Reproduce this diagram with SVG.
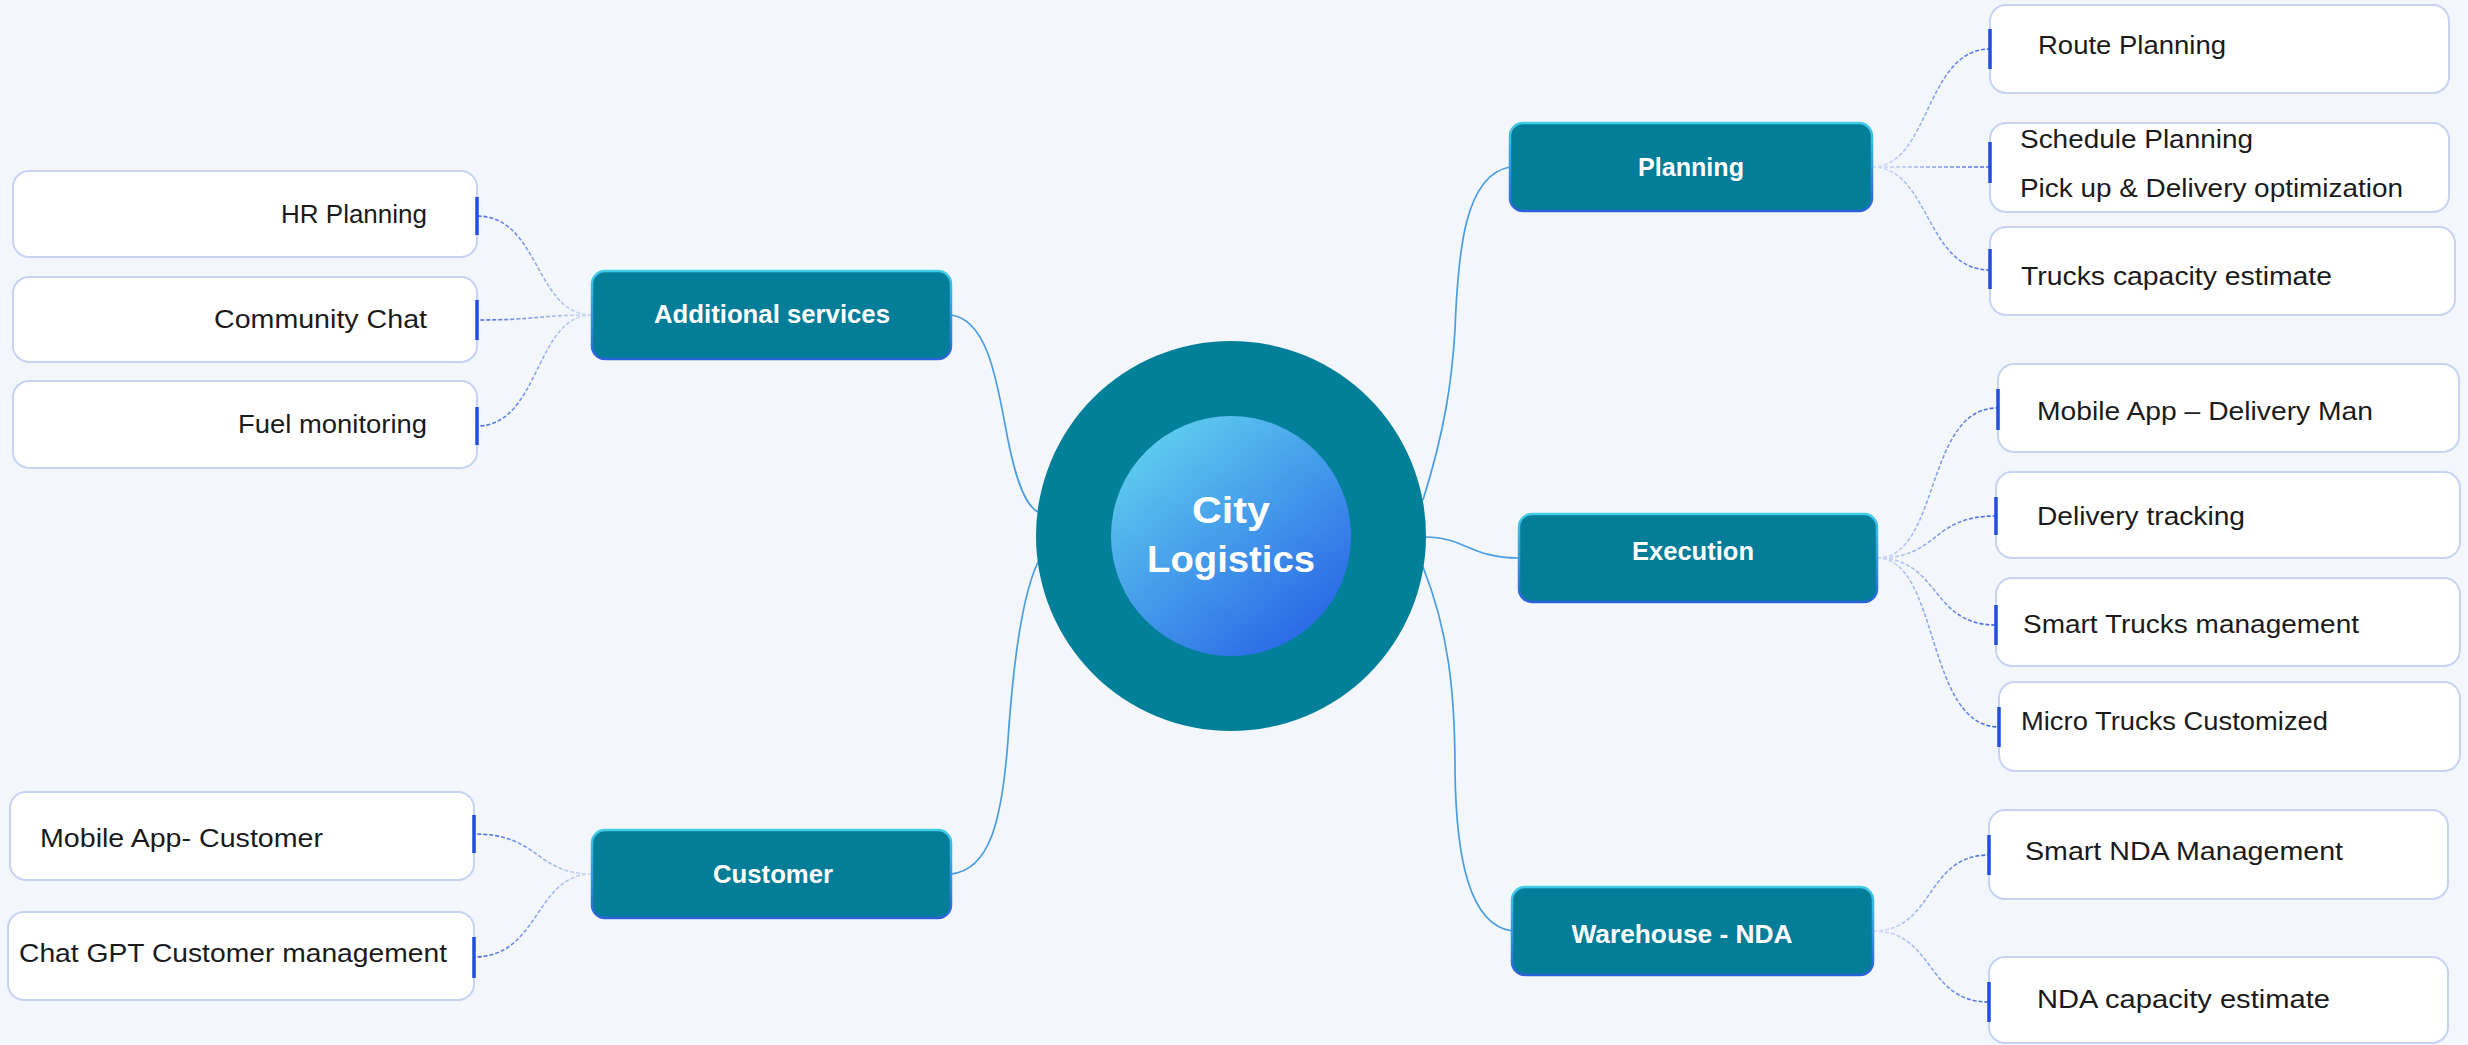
<svg xmlns="http://www.w3.org/2000/svg" width="2468" height="1045" viewBox="0 0 2468 1045">
<defs>
<linearGradient id="core" x1="0.2" y1="0.1" x2="0.85" y2="0.9">
<stop offset="0" stop-color="#5cc9ee"/>
<stop offset="1" stop-color="#2a68e6"/>
</linearGradient>
<linearGradient id="nodeStroke" x1="0" y1="0" x2="0" y2="1">
<stop offset="0" stop-color="#3fcde8"/>
<stop offset="1" stop-color="#2a62d8"/>
</linearGradient>
<linearGradient id="gr" gradientUnits="userSpaceOnUse" x1="1875" y1="0" x2="1995" y2="0">
<stop offset="0" stop-color="#d6e0f7"/>
<stop offset="1" stop-color="#3f64dc"/>
</linearGradient>
<linearGradient id="gl" gradientUnits="userSpaceOnUse" x1="592" y1="0" x2="474" y2="0">
<stop offset="0" stop-color="#d6e0f7"/>
<stop offset="1" stop-color="#3f64dc"/>
</linearGradient>
<style>
.bg{fill:#f3f7fb}
.main rect{fill:#037d98;stroke:url(#nodeStroke);stroke-width:2.5}
.main text{fill:#ffffff;font-family:"Liberation Sans",Arial,sans-serif;font-weight:bold;font-size:25px;text-anchor:middle}
.leaf rect{fill:#ffffff;stroke:#c8d2f2;stroke-width:2}
.leaf text{fill:#1b1b1b;font-family:"Liberation Sans",Arial,sans-serif;font-size:25px}
.leaf line{stroke:#1f4fdc;stroke-width:3.5}
.trunk{fill:none;stroke:#4a9de2;stroke-width:1.7}
.br{fill:none;stroke:url(#gr);stroke-width:1.6;stroke-dasharray:4 2}
.bl{fill:none;stroke:url(#gl);stroke-width:1.6;stroke-dasharray:4 2}
</style>
</defs>
<rect class="bg" x="0" y="0" width="2468" height="1045"/>

<g id="connectors">
<path class="trunk" d="M1423,500 C1445,430 1452,380 1455,330 C1458,250 1465,175 1510,167"/>
<path class="trunk" d="M1425,537 C1465,537 1470,558 1519,558"/>
<path class="trunk" d="M1423,567 C1448,630 1455,690 1455,770 C1456,860 1470,925 1512,931"/>
<path class="trunk" d="M951,315 C990,320 998,390 1008,440 C1016,480 1025,505 1038,512"/>
<path class="trunk" d="M1038,562 C1020,600 1012,680 1008,740 C1002,820 990,870 951,874"/>
<path class="br" d="M1872,167 C1930,167 1925,49 1990,49"/>
<path class="br" d="M1872,167 L1990,167"/>
<path class="br" d="M1872,167 C1930,167 1925,270 1990,270"/>
<path class="br" d="M1877,558 C1940,558 1925,408 1997,408"/>
<path class="br" d="M1877,558 C1940,558 1930,516 1996,516"/>
<path class="br" d="M1877,558 C1940,558 1930,625 1996,625"/>
<path class="br" d="M1877,558 C1940,558 1925,727 1999,727"/>
<path class="br" d="M1873,931 C1935,931 1925,855 1989,855"/>
<path class="br" d="M1873,931 C1935,931 1925,1002 1989,1002"/>
<path class="bl" d="M592,315 C535,315 540,216 477,216"/>
<path class="bl" d="M592,315 C535,315 540,320 477,320"/>
<path class="bl" d="M592,315 C535,315 540,426 477,426"/>
<path class="bl" d="M592,874 C535,874 540,834 474,834"/>
<path class="bl" d="M592,874 C535,874 540,957 474,957"/>
</g>

<g id="center">
<circle cx="1231" cy="536" r="195" fill="#027f99"/>
<circle cx="1231" cy="536" r="120" fill="url(#core)"/>
<text x="1231" y="523" font-family="'Liberation Sans',Arial,sans-serif" font-weight="bold" font-size="36" fill="#ffffff" text-anchor="middle" textLength="78" lengthAdjust="spacingAndGlyphs">City</text>
<text x="1231" y="572" font-family="'Liberation Sans',Arial,sans-serif" font-weight="bold" font-size="36" fill="#ffffff" text-anchor="middle" textLength="168" lengthAdjust="spacingAndGlyphs">Logistics</text>
</g>

<g id="planning" class="main">
<rect x="1510" y="123" width="362" height="88" rx="13"/>
<text x="1691" y="176" textLength="106" lengthAdjust="spacingAndGlyphs">Planning</text>
</g>
<g id="additional-services" class="main">
<rect x="592" y="271" width="359" height="88" rx="13"/>
<text x="772" y="323" textLength="236" lengthAdjust="spacingAndGlyphs">Additional services</text>
</g>
<g id="execution" class="main">
<rect x="1519" y="514" width="358" height="88" rx="13"/>
<text x="1693" y="560" textLength="122" lengthAdjust="spacingAndGlyphs">Execution</text>
</g>
<g id="customer" class="main">
<rect x="592" y="830" width="359" height="88" rx="13"/>
<text x="773" y="883" textLength="120" lengthAdjust="spacingAndGlyphs">Customer</text>
</g>
<g id="warehouse-nda" class="main">
<rect x="1512" y="887" width="361" height="88" rx="13"/>
<text x="1682" y="943" textLength="221" lengthAdjust="spacingAndGlyphs">Warehouse - NDA</text>
</g>

<g id="route-planning" class="leaf">
<rect x="1990" y="5" width="459" height="88" rx="16"/>
<line x1="1990" y1="29" x2="1990" y2="69"/>
<text x="2038" y="54" textLength="188" lengthAdjust="spacingAndGlyphs">Route Planning</text>
</g>
<g id="schedule-planning" class="leaf">
<rect x="1990" y="123" width="459" height="89" rx="16"/>
<line x1="1990" y1="142" x2="1990" y2="183"/>
<text x="2020" y="148" textLength="233" lengthAdjust="spacingAndGlyphs">Schedule Planning</text>
<text x="2020" y="197" textLength="383" lengthAdjust="spacingAndGlyphs">Pick up &amp; Delivery optimization</text>
</g>
<g id="trucks-capacity" class="leaf">
<rect x="1990" y="227" width="465" height="88" rx="16"/>
<line x1="1990" y1="249" x2="1990" y2="289"/>
<text x="2021" y="285" textLength="311" lengthAdjust="spacingAndGlyphs">Trucks capacity estimate</text>
</g>
<g id="mobile-app-delivery" class="leaf">
<rect x="1998" y="364" width="461" height="88" rx="16"/>
<line x1="1998" y1="389" x2="1998" y2="430"/>
<text x="2037" y="420" textLength="336" lengthAdjust="spacingAndGlyphs">Mobile App – Delivery Man</text>
</g>
<g id="delivery-tracking" class="leaf">
<rect x="1996" y="472" width="464" height="86" rx="16"/>
<line x1="1996" y1="497" x2="1996" y2="535"/>
<text x="2037" y="525" textLength="208" lengthAdjust="spacingAndGlyphs">Delivery tracking</text>
</g>
<g id="smart-trucks" class="leaf">
<rect x="1996" y="578" width="464" height="88" rx="16"/>
<line x1="1996" y1="605" x2="1996" y2="645"/>
<text x="2023" y="633" textLength="336" lengthAdjust="spacingAndGlyphs">Smart Trucks management</text>
</g>
<g id="micro-trucks" class="leaf">
<rect x="1999" y="682" width="461" height="89" rx="16"/>
<line x1="1999" y1="707" x2="1999" y2="747"/>
<text x="2021" y="730" textLength="307" lengthAdjust="spacingAndGlyphs">Micro Trucks Customized</text>
</g>
<g id="smart-nda" class="leaf">
<rect x="1989" y="810" width="459" height="89" rx="16"/>
<line x1="1989" y1="835" x2="1989" y2="875"/>
<text x="2025" y="860" textLength="318" lengthAdjust="spacingAndGlyphs">Smart NDA Management</text>
</g>
<g id="nda-capacity" class="leaf">
<rect x="1989" y="957" width="459" height="86" rx="16"/>
<line x1="1989" y1="982" x2="1989" y2="1022"/>
<text x="2037" y="1008" textLength="293" lengthAdjust="spacingAndGlyphs">NDA capacity estimate</text>
</g>

<g id="hr-planning" class="leaf">
<rect x="13" y="171" width="464" height="86" rx="16"/>
<line x1="477" y1="197" x2="477" y2="235"/>
<text x="427" y="223" text-anchor="end" textLength="146" lengthAdjust="spacingAndGlyphs">HR Planning</text>
</g>
<g id="community-chat" class="leaf">
<rect x="13" y="277" width="464" height="85" rx="16"/>
<line x1="477" y1="300" x2="477" y2="340"/>
<text x="427" y="328" text-anchor="end" textLength="213" lengthAdjust="spacingAndGlyphs">Community Chat</text>
</g>
<g id="fuel-monitoring" class="leaf">
<rect x="13" y="381" width="464" height="87" rx="16"/>
<line x1="477" y1="407" x2="477" y2="445"/>
<text x="427" y="433" text-anchor="end" textLength="189" lengthAdjust="spacingAndGlyphs">Fuel monitoring</text>
</g>
<g id="mobile-app-customer" class="leaf">
<rect x="10" y="792" width="464" height="88" rx="16"/>
<line x1="474" y1="815" x2="474" y2="853"/>
<text x="40" y="847" textLength="283" lengthAdjust="spacingAndGlyphs">Mobile App- Customer</text>
</g>
<g id="chatgpt-customer" class="leaf">
<rect x="8" y="912" width="466" height="88" rx="16"/>
<line x1="474" y1="937" x2="474" y2="978"/>
<text x="19" y="962" textLength="428" lengthAdjust="spacingAndGlyphs">Chat GPT Customer management</text>
</g>
</svg>
